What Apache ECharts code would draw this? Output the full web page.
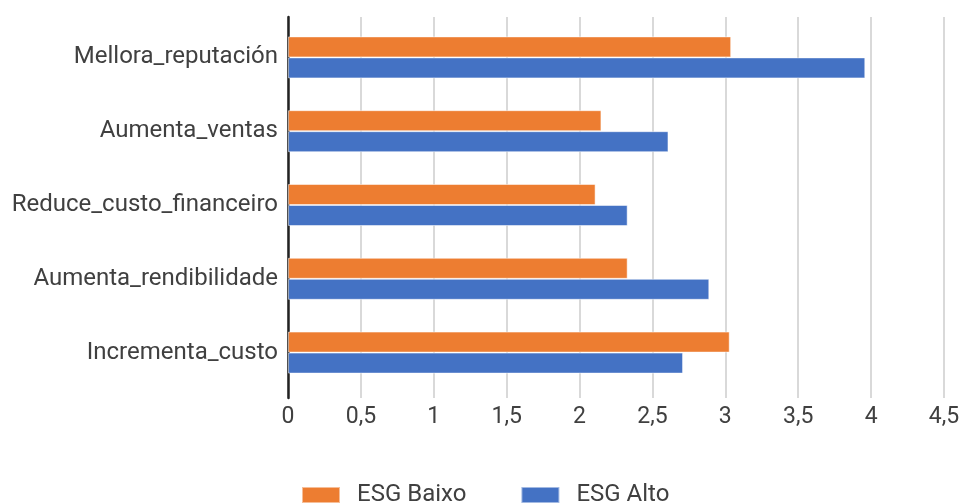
<!DOCTYPE html>
<html>
<head>
<meta charset="utf-8">
<script src="https://cdn.jsdelivr.net/npm/echarts@6/dist/echarts.min.js"></script>
<style>html,body{margin:0;padding:0;background:#fff}#c{width:963px;height:504px}</style>
</head>
<body>
<div id="c"></div>
<script>
var categories = ['Mellora_reputación', 'Aumenta_ventas', 'Reduce_custo_financeiro', 'Aumenta_rendibilidade', 'Incrementa_custo'];
var esgBaixo = [3.04, 2.15, 2.11, 2.33, 3.03];
var esgAlto = [3.96, 2.61, 2.33, 2.89, 2.71];
var xTicks = [0, 0.5, 1, 1.5, 2, 2.5, 3, 3.5, 4, 4.5];

var FONT = 'Roboto';
var TXT = '#404040';
var chart = echarts.init(document.getElementById('c'), null, {renderer: 'canvas'});
chart.setOption({
  animation: false,
  textStyle: {fontFamily: FONT},
  grid: [
    {left: 288, right: 19, top: 17, bottom: 106, containLabel: false},
    {left: 288, right: 19, top: 20.5, bottom: 114.5, containLabel: false}
  ],
  legend: {
    data: ['ESG Baixo', 'ESG Alto'],
    left: 301, top: 483, padding: 0,
    itemWidth: 38, itemHeight: 16, itemGap: 54,
    icon: 'rect',
    textStyle: {fontFamily: FONT, fontSize: 24, color: TXT, padding: [0, 0, 0, 12]}
  },
  xAxis: [
    {
      gridIndex: 0, type: 'value', min: xTicks[0], max: xTicks[xTicks.length - 1], interval: 0.5,
      axisLine: {show: false}, axisTick: {show: false},
      splitLine: {show: true, lineStyle: {color: '#d9d9d9', width: 2}},
      axisLabel: {fontFamily: FONT, fontSize: 23, color: TXT, margin: 8,
        formatter: function (v) { return String(v).replace('.', ','); }}
    },
    {
      gridIndex: 1, type: 'value', min: xTicks[0], max: xTicks[xTicks.length - 1],
      show: false
    }
  ],
  yAxis: [
    {
      gridIndex: 0, type: 'category', data: [''],
      axisLine: {show: true, lineStyle: {color: '#222', width: 2.5}},
      axisTick: {show: false}, axisLabel: {show: false}
    },
    {
      gridIndex: 1, type: 'category', data: categories, inverse: true,
      axisLine: {show: false}, axisTick: {show: false},
      axisLabel: {fontFamily: FONT, fontSize: 24, color: TXT, margin: 10}
    }
  ],
  series: [
    {
      name: 'ESG Baixo', type: 'bar', xAxisIndex: 1, yAxisIndex: 1, data: esgBaixo,
      barWidth: 21, barGap: '0%',
      itemStyle: {color: '#ED7D31', borderColor: 'rgba(255,255,255,0.5)', borderWidth: 1}
    },
    {
      name: 'ESG Alto', type: 'bar', xAxisIndex: 1, yAxisIndex: 1, data: esgAlto,
      barWidth: 21, barGap: '0%',
      itemStyle: {color: '#4472C4', borderColor: 'rgba(255,255,255,0.5)', borderWidth: 1}
    }
  ]
});
</script>
</body>
</html>
